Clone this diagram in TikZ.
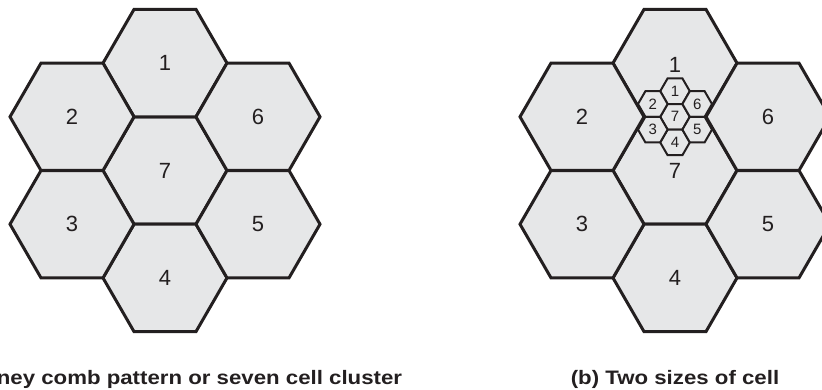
\documentclass[tikz,border=0pt]{standalone}
\usepackage{fontspec}
\setmainfont{Liberation Sans}
\newfontfamily\capfont[FakeStretch=1.14]{Liberation Sans}
\usetikzlibrary{shapes.geometric}
\definecolor{cellfill}{HTML}{E6E7E8}
\definecolor{ink}{HTML}{231F20}
\tikzset{
  bigcell/.style={regular polygon, regular polygon sides=6, minimum size=124pt,
    inner sep=0pt, draw=ink, fill=cellfill, line width=3pt,
    font=\fontsize{22}{24}\selectfont, text=ink},
  smallcell/.style={regular polygon, regular polygon sides=6, minimum size=29.6pt,
    inner sep=0pt, draw=ink, fill=cellfill, line width=2pt,
    font=\fontsize{15}{16}\selectfont, text=ink},
  biglabel/.style={font=\fontsize{22}{24}\selectfont, text=ink, inner sep=0pt},
  caption/.style={font=\capfont\bfseries\fontsize{19.5}{22}\selectfont, text=ink,
    anchor=base, inner sep=0pt}
}
\begin{document}
\begin{tikzpicture}[x=1pt, y=-1pt]
  \useasboundingbox (0,0) rectangle (822,390);
  \clip (0,0) rectangle (822,390);

  % (a) seven-cell cluster
  \begin{scope}[shift={(165,170.5)}]
    \node[bigcell] (a7) at (0,0) {7};
    \node[bigcell] (a1) at (0,-107.4) {1};
    \node[bigcell] (a4) at (0,107.4) {4};
    \node[bigcell] (a2) at (-93,-53.7) {2};
    \node[bigcell] (a3) at (-93,53.7) {3};
    \node[bigcell] (a6) at (93,-53.7) {6};
    \node[bigcell] (a5) at (93,53.7) {5};
  \end{scope}

  % (b) large cells with a small cluster on the edge between cells 1 and 7
  \begin{scope}[shift={(675,170.5)}]
    \node[bigcell] (b7) at (0,0) {};
    \node[bigcell] (b1) at (0,-107.4) {};
    \node[bigcell] (b4) at (0,107.4) {4};
    \node[bigcell] (b2) at (-93,-53.7) {2};
    \node[bigcell] (b3) at (-93,53.7) {3};
    \node[bigcell] (b6) at (93,-53.7) {6};
    \node[bigcell] (b5) at (93,53.7) {5};
    \node[biglabel] (b1lab) at (0,-106) {1};
    \node[biglabel] (b7lab) at (0,0) {7};
  \end{scope}
  \begin{scope}[shift={(675,116.8)}]
    \node[smallcell] (s7) at (0,0) {7};
    \node[smallcell] (s1) at (0,-25.6) {1};
    \node[smallcell] (s4) at (0,25.6) {4};
    \node[smallcell] (s2) at (-22.2,-12.8) {2};
    \node[smallcell] (s3) at (-22.2,12.8) {3};
    \node[smallcell] (s6) at (22.2,-12.8) {6};
    \node[smallcell] (s5) at (22.2,12.8) {5};
  \end{scope}

  % captions
  \node[caption] (capa) at (168,384) {(a) Honey comb pattern or seven cell cluster};
  \node[caption] (capb) at (675,384) {(b) Two sizes of cell};
\end{tikzpicture}
\end{document}
